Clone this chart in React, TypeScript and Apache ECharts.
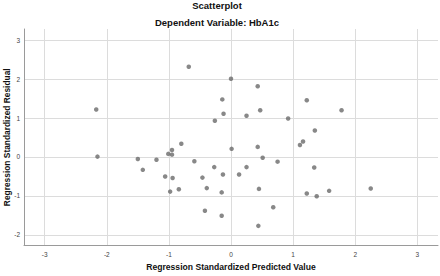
import React, { useEffect, useRef } from "react";
import * as echarts from "echarts";

const titleMain = "Scatterplot";
const titleSub = "Dependent Variable: HbA1c";
const xAxisTitle = "Regression Standardized Predicted Value";
const yAxisTitle = "Regression Standardized Residual";

const xTicks = [-3, -2, -1, 0, 1, 2, 3];
const yTicks = [-2, -1, 0, 1, 2, 3];

const predicted = [
  -2.17, -0.68, 0.0, 0.43, -0.14, -0.12, -0.26, 0.25, 0.47, 0.92,
  1.22, 1.78, 1.35, -2.15, -1.5, -1.42, -1.2, -0.8, -0.95, -1.01,
  -0.95, 0.01, 0.43, 1.11, 0.51, -0.59, 0.75, -0.27, 0.25, -1.06,
  -0.94, -0.46, -0.13, 0.13, -0.98, -0.84, -0.39, -0.15, 0.45, -0.42,
  -0.15, 0.68, 0.44, 1.16, 1.34, 1.22, 1.38, 1.58, 2.25,
];
const residual = [
  1.22, 2.32, 2.01, 1.82, 1.48, 1.11, 0.93, 1.06, 1.2, 0.99,
  1.46, 1.2, 0.68, 0.01, -0.05, -0.33, -0.07, 0.34, 0.18, 0.08,
  0.06, 0.21, 0.26, 0.31, -0.02, -0.11, -0.12, -0.26, -0.26, -0.5,
  -0.54, -0.53, -0.45, -0.45, -0.89, -0.83, -0.8, -0.91, -0.82, -1.38,
  -1.51, -1.29, -1.77, 0.4, -0.27, -0.94, -1.01, -0.87, -0.81,
];

export default function App() {
  const ref = useRef<HTMLDivElement>(null);
  useEffect(() => {
    document.body.style.margin = "0";
    if (!ref.current) return;
    const chart = echarts.init(ref.current, null, { renderer: "svg" });
    const font = "'Liberation Sans', Arial, sans-serif";
    const data = predicted.map((x, i) => [x, residual[i]]);
    chart.setOption({
      animation: false,
      backgroundColor: "#ffffff",
      textStyle: { fontFamily: font },
      title: [
        {
          text: titleMain,
          left: 217,
          top: 0,
          padding: 0,
          textAlign: "center",
          textStyle: { fontSize: 9.5, fontWeight: "bold", color: "#111", fontFamily: font },
        },
        {
          text: titleSub,
          left: 217,
          top: 17,
          padding: 0,
          textAlign: "center",
          textStyle: { fontSize: 9.5, fontWeight: "bold", color: "#111", fontFamily: font },
        },
      ],
      grid: { left: 24, right: 2, top: 29, bottom: 30.5, containLabel: false, outerBoundsMode: "none" },
      xAxis: {
        type: "value",
        min: -3.333,
        max: 3.333,
        name: xAxisTitle,
        nameLocation: "middle",
        nameGap: 14,
        nameTextStyle: { fontSize: 8.6, fontWeight: "bold", color: "#111", fontFamily: font },
        axisLine: { show: true, onZero: false, lineStyle: { color: "#9a9a9a", width: 1 } },
        axisTick: { show: false, customValues: xTicks },
        axisLabel: { customValues: xTicks, fontSize: 6.5, color: "#444", margin: 5 },
        splitLine: { show: true, lineStyle: { color: "#dcdcdc", width: 1 } },
      },
      yAxis: {
        type: "value",
        min: -2.275,
        max: 3.29,
        name: yAxisTitle,
        nameLocation: "middle",
        nameGap: 13,
        nameMoveOverlap: false,
        nameTextStyle: { fontSize: 8.4, fontWeight: "bold", color: "#111", fontFamily: font },
        axisLine: { show: true, onZero: false, lineStyle: { color: "#9a9a9a", width: 1 } },
        axisTick: { show: false, customValues: yTicks },
        axisLabel: { customValues: yTicks, fontSize: 6.5, color: "#444", margin: 4 },
        splitLine: { show: true, lineStyle: { color: "#dcdcdc", width: 1 } },
      },
      series: [
        {
          type: "scatter",
          data,
          symbol: "circle",
          symbolSize: 4.5,
          itemStyle: { color: "#6a6a6a" },
        },
      ],
    });
    return () => chart.dispose();
  }, []);
  return <div ref={ref} style={{ width: 440, height: 276 }} />;
}
